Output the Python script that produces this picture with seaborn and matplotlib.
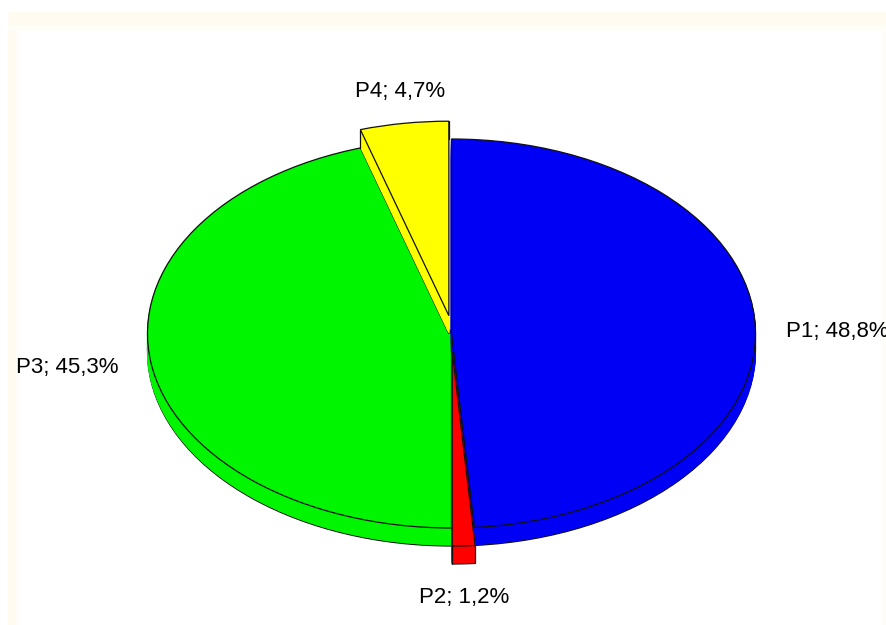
import numpy as np
import matplotlib.pyplot as plt
from matplotlib.patches import Rectangle
import seaborn as sns

Names = ["P1", "P2", "P3", "P4"]
Shares = [48.8, 1.2, 45.3, 4.7]
ShareText = ["48,8%", "1,2%", "45,3%", "4,7%"]
Colors = ["#0000F5", "#FF0000", "#00F500", "#FFFF00"]
Exploded = [0, 1, 0, 1]

# pixel geometry of the drawing
W, H = 887, 625
CX, CY = 451.5, 333.5
RX, RY = 304, 194.5
Depth = 18
Pull = 18
LabelPos = [(786, 332), (464, 598), (67, 368), (400, 91)]

sns.set_theme(style="white")
plt.rcParams["font.family"] = ["Liberation Sans", "DejaVu Sans"]
Palette = sns.color_palette(Colors)

fig = plt.figure(figsize=(W / 100, H / 100), dpi=100, facecolor="white")


# faint cream band of the original frame, x/y/w/h in pixels from top left
def band(x, y, w, h, color):
    fig.patches.append(Rectangle((x / W, 1 - (y + h) / H), w / W, h / H, transform=fig.transFigure, color=color, lw=0))


band(8, 12, W - 8, 13, "#FFFBF1")
band(8, 25, W - 8, 6, "#FFFDF8")
band(8, 31, 8, H - 31, "#FFFBF1")
band(16, 31, 4, H - 31, "#FFFDF8")
band(W - 5, 31, 5, H - 31, "#FFFDF8")

ax = fig.add_axes([0, 0, 1, 1])
ax.patch.set_alpha(0)

Fracs = np.array(Shares) / sum(Shares)
Ends = 2 * np.pi * np.cumsum(Fracs)
Starts = Ends - 2 * np.pi * Fracs
Mid = (Starts + Ends) / 2
# clockwise from 12 o'clock, pulled slices move along their middle angle
OffX = Pull * np.sin(Mid) * Exploded
OffY = Pull * np.cos(Mid) * Exploded
DrawBase = [10, 30, 0, 20]  # green, blue, then the pulled slices

for Layer in range(Depth, -1, -1):
    Edge = Layer == Depth or Layer == 0
    Wedges, _ = ax.pie(Shares, colors=Palette, startangle=90, counterclock=False, radius=1,
                       wedgeprops={"edgecolor": "#111111" if Edge else "none", "linewidth": 0.9 if Edge else 0})
    for i, Wedge in enumerate(Wedges):
        Wedge.set_center((OffX[i] / RX, OffY[i] / RY - Layer / RY))
        Wedge.set_zorder(DrawBase[i] + (Depth - Layer) * 0.1)
        if not Edge:
            Wedge.set_edgecolor(Palette[i])
            Wedge.set_linewidth(0.8)

# side edges of the pulled slices
for i in range(len(Shares)):
    if not Exploded[i]:
        continue
    for Ang in (Starts[i], Ends[i]):
        X = (OffX[i] + RX * np.sin(Ang)) / RX
        Y = OffY[i] / RY + np.cos(Ang)
        ax.plot([X, X], [Y, Y - Depth / RY], color="#111111", lw=0.9, zorder=DrawBase[i] + 5)

ax.set_aspect("auto")
ax.set_xlim(-CX / RX, (W - CX) / RX)
ax.set_ylim(-(H - CY) / RY, CY / RY)
ax.axis("off")

for i, Name in enumerate(Names):
    X, Y = LabelPos[i]
    Ha = "left" if i == 0 else "center"
    fig.text(X / W, 1 - Y / H, f"{Name}; {ShareText[i]}", fontsize=16, color="black", ha=Ha, va="center")

fig.savefig("out.png", dpi=100)
